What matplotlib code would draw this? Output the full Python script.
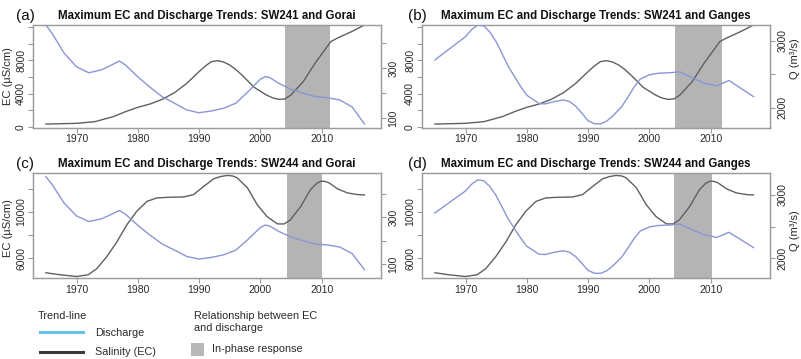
import matplotlib
matplotlib.use('Agg')
import matplotlib.pyplot as plt
from matplotlib.lines import Line2D
from matplotlib.patches import Rectangle

plt.rcParams['font.family'] = ['Liberation Sans', 'DejaVu Sans']

# ---------------- data ----------------
years_sw241 = [1965, 1970, 1973, 1976, 1978, 1980, 1982, 1984, 1986, 1988, 1990,
               1991, 1992, 1993, 1994, 1995, 1996, 1997, 1999, 2001, 2002, 2003,
               2004, 2005, 2007, 2009, 2011.5, 2012.5, 2015, 2017]
ec_sw241 = [350, 440, 640, 1240, 1840, 2360, 2760, 3320, 4120, 5240, 6640,
            7300, 7840, 7960, 7800, 7440, 6900, 6240, 4760, 3840, 3500, 3320,
            3360, 3840, 5440, 7720, 10240, 10640, 11480, 12240]

years_sw244 = [1965, 1967.3, 1970, 1971.9, 1973.3, 1974.9, 1976.6, 1978.2, 1979.8,
               1981.5, 1983.1, 1984.8, 1987.5, 1989.1, 1990.8, 1992.4, 1993.5, 1994.6,
               1995.5, 1996.2, 1997.9, 1999.5, 2001.1, 2002.8, 2003.9, 2004.9, 2006.6,
               2008.2, 2009.2, 2009.9, 2010.5, 2011.2, 2012.6, 2014.2, 2015.9, 2017]
ec_sw244 = [4757, 4583, 4435, 4583, 5104, 6113, 7417, 8870, 10026,
            10896, 11191, 11243, 11278, 11478, 12200, 12843, 13030, 13130,
            13080, 12930, 12061, 10609, 9591, 8957, 8957, 9304, 10461,
            11913, 12450, 12635, 12620, 12496, 11974, 11626, 11478, 11452]

years_gorai = [1965, 1966, 1968, 1970, 1972, 1974, 1975, 1977, 1978, 1980, 1982,
               1984, 1986, 1988, 1990, 1992, 1994, 1996, 1998, 2000, 2000.8, 2001.6,
               2003, 2005, 2007, 2009, 2011, 2013, 2015, 2017]
q_gorai = [473, 440, 360, 306, 282, 293, 304, 329, 313, 266, 224,
           186, 160, 133, 122, 129, 140, 160, 206, 256, 267, 262,
           240, 216, 200, 186, 182, 173, 145, 77]

years_ganges = [1965, 1970, 1971, 1972, 1973, 1974, 1975, 1977, 1979, 1980, 1982, 1983,
                1984.5, 1986, 1987, 1988, 1989, 1990, 1991, 1992, 1993, 1994,
                1995.5, 1996.5, 1997.5, 1998.5, 2000, 2001.5, 2003.5, 2005, 2007,
                2009, 2011, 2013, 2015, 2017]
q_ganges = [2716, 3064, 3170, 3239, 3225, 3130, 2990, 2617, 2320, 2190, 2065, 2060,
            2095, 2119, 2095, 2025, 1920, 1810, 1765, 1761, 1800, 1875,
            2020, 2160, 2310, 2430, 2495, 2518, 2527, 2540, 2450,
            2370, 2330, 2410, 2290, 2169]

titles = ['Maximum EC and Discharge Trends: SW241 and Gorai',
          'Maximum EC and Discharge Trends: SW241 and Ganges',
          'Maximum EC and Discharge Trends: SW244 and Gorai',
          'Maximum EC and Discharge Trends: SW244 and Ganges']
panel_tags = ['(a)', '(b)', '(c)', '(d)']
inphase = [(2004.1, 2011.4), (2004.2, 2011.8), (2004.3, 2010.0), (2004.0, 2010.3)]
x_ticks = [1970, 1980, 1990, 2000, 2010]

# ---------------- style ----------------
W, H = 801, 359
BLUE = '#8c95d6'
GREY = '#606060'
FRAME = '#9c9c9c'
SHADE = '#b4b4b4'
TXT = '#2a2a2a'

fig = plt.figure(figsize=(W / 100, H / 100), dpi=100)


def rect(x0, y0, x1, y1):
    return [x0 / W, 1 - y1 / H, (x1 - x0) / W, (y1 - y0) / H]


def fx(px):
    return px / W


def fy(py):
    return 1 - py / H


cfg = [
    dict(r=(33, 24.5, 381, 128), ec=(years_sw241, ec_sw241), q=(years_gorai, q_gorai),
         elim=(-120, 12300), eticks=[0, 2000, 4000, 6000, 8000, 10000, 12000],
         elab=[0, 4000, 8000], qlim=(61, 475), qticks=[100, 200, 300, 400], qlab=[100, 300]),
    dict(r=(422, 24.5, 770, 128), ec=(years_sw241, ec_sw241), q=(years_ganges, q_ganges),
         elim=(-120, 12300), eticks=[0, 2000, 4000, 6000, 8000, 10000, 12000],
         elab=[0, 4000, 8000], qlim=(1700, 3246), qticks=[2000, 2500, 3000], qlab=[2000, 3000]),
    dict(r=(33, 172.7, 381, 278.3), ec=(years_sw244, ec_sw244), q=(years_gorai, q_gorai),
         elim=(4280, 13363), eticks=[6000, 8000, 10000, 12000],
         elab=[6000, 10000], qlim=(40, 490), qticks=[100, 200, 300, 400], qlab=[100, 300]),
    dict(r=(422, 172.7, 770, 278.3), ec=(years_sw244, ec_sw244), q=(years_ganges, q_ganges),
         elim=(4280, 13363), eticks=[6000, 8000, 10000, 12000],
         elab=[6000, 10000], qlim=(1684, 3352), qticks=[2000, 2500, 3000], qlab=[2000, 3000]),
]

for i, c in enumerate(cfg):
    x0, y0, x1, y1 = c['r']
    ax = fig.add_axes(rect(x0, y0, x1, y1))
    ax2 = ax.twinx()
    ax.set_xlim(1962.9, 2019.7)
    ax.set_ylim(*c['elim'])
    ax2.set_ylim(*c['qlim'])

    ax.axvspan(*inphase[i], color=SHADE, lw=0, zorder=0)
    ax.plot(c['ec'][0], c['ec'][1], color=GREY, lw=1.0, zorder=3, solid_joinstyle='round')
    ax2.plot(c['q'][0], c['q'][1], color=BLUE, lw=1.0, zorder=3, solid_joinstyle='round')

    for a in (ax, ax2):
        for s in a.spines.values():
            s.set_color(FRAME)
            s.set_linewidth(0.9)
        a.tick_params(colors=FRAME, labelcolor=TXT, labelsize=7.5, length=3.5, width=0.8)

    ax.set_xticks(x_ticks, labels=[str(t) for t in x_ticks])
    ax.tick_params(axis='x', pad=1)
    ax.set_yticks(c['eticks'], labels=[str(t) if t in c['elab'] else '' for t in c['eticks']],
                  rotation=90, va='center')
    ax.tick_params(axis='y', pad=1.5)
    ax2.set_yticks(c['qticks'], labels=[str(t) if t in c['qlab'] else '' for t in c['qticks']],
                   rotation=90, va='center')
    ax2.tick_params(axis='y', pad=2)

    # title and panel tag
    fig.text(fx((x0 + x1) / 2), fy(y0 - 5.5), titles[i], ha='center', va='baseline',
             fontsize=8.3, fontweight='bold', color='#111111')
    fig.text(fx(x0 - 17 if i % 2 == 0 else x0 - 14), fy(y0 - 8.5), panel_tags[i],
             ha='left', va='center', fontsize=11, color='#111111')

# axis titles
fig.text(fx(8.3), fy(76), 'EC (µS/cm)', rotation=90, ha='center', va='center',
         fontsize=8, color=TXT)
fig.text(fx(8.3), fy(228), 'EC (µS/cm)', rotation=90, ha='center', va='center',
         fontsize=8, color=TXT)
fig.text(fx(795), fy(59), 'Q (m³/s)', rotation=90, ha='center', va='center',
         fontsize=8, color=TXT)
fig.text(fx(795), fy(231), 'Q (m³/s)', rotation=90, ha='center', va='center',
         fontsize=8, color=TXT)

# ---------------- legend ----------------
LFS = 7.8
fig.text(fx(38), fy(316), 'Trend-line', ha='left', va='center', fontsize=LFS, color=TXT)
fig.add_artist(Line2D([fx(40), fx(83)], [fy(331.7), fy(331.7)], color='#66c2e6', lw=2.2))
fig.text(fx(95), fy(332.5), 'Discharge', ha='left', va='center', fontsize=LFS, color=TXT)
fig.add_artist(Line2D([fx(40), fx(83)], [fy(352), fy(352)], color='#3a3a3a', lw=2.2))
fig.text(fx(95), fy(352), 'Salinity (EC)', ha='left', va='center', fontsize=LFS, color=TXT)

fig.text(fx(194), fy(315.7), 'Relationship between EC', ha='left', va='center',
         fontsize=LFS, color=TXT)
fig.text(fx(194), fy(327.7), 'and discharge', ha='left', va='center', fontsize=LFS, color=TXT)
fig.add_artist(Rectangle((fx(190.7), fy(355.7)), fx(204) - fx(190.7), fy(343.3) - fy(355.7),
                         transform=fig.transFigure, facecolor='#b8b8b8', edgecolor='none'))
fig.text(fx(212), fy(349.5), 'In-phase response', ha='left', va='center', fontsize=LFS, color=TXT)

fig.savefig('out.png', dpi=100)
